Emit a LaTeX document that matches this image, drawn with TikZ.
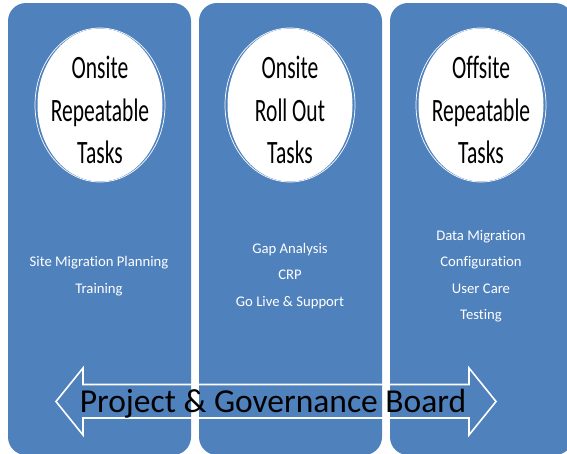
\documentclass[tikz,border=0pt]{standalone}
\usepackage{fontspec}
\usetikzlibrary{shapes.geometric}
\setmainfont{Carlito}[Ligatures={NoCommon}]
\newfontfamily\narrowfont[FakeStretch=0.66,Ligatures={NoCommon}]{Carlito}
\definecolor{obl}{RGB}{79,129,189}
\begin{document}
\begin{tikzpicture}[x=1pt,y=-1pt,
  colbox/.style={fill=obl,draw=none,rounded corners=18pt,minimum width=183pt,minimum height=452pt,inner sep=0pt},
  headell/.style={ellipse,fill=white,draw=none,minimum width=125pt,minimum height=153pt,inner sep=0pt},
  headring/.style={ellipse,draw=white,line width=0.7pt,minimum width=130pt,minimum height=154pt,inner sep=0pt},
  headtxt/.style={align=center,font=\narrowfont\fontsize{32.6}{42.5}\selectfont,text=black,inner sep=0pt},
  bodytxt/.style={align=center,font=\fontsize{14.7}{26.5}\selectfont,text=white,inner sep=0pt},
  arrowline/.style={draw=white,line width=1.6pt,line join=miter},
  arrowtxt/.style={font=\fontsize{33.5}{36}\selectfont,text=black,inner sep=0pt,anchor=base}
]
\useasboundingbox (0,0) rectangle (567,453);
\begin{scope}
\clip (0,0) rectangle (567,453);
\node[colbox] (col1) at (99.5,229) {};
\node[colbox] (col2) at (290.5,229) {};
\node[colbox] (col3) at (481.5,229) {};
\end{scope}
\foreach \i/\x in {1/100,2/290,3/481}{
  \node[headring] (r\i) at (\x,105) {};
  \node[headell] (e\i) at (\x,105) {};
}
\node[headtxt] (h1) at (100,110) {Onsite\\Repeatable\\Tasks};
\node[headtxt] (h2) at (290,110) {Onsite\\Roll Out\\Tasks};
\node[headtxt] (h3) at (481,110) {Offsite\\Repeatable\\Tasks};
\node[bodytxt] (b1) at (99,276) {Site Migration Planning\\Training};
\node[bodytxt] (b2) at (290,276) {Gap Analysis\\CRP\\Go Live \& Support};
\node[bodytxt] (b3) at (481,276) {Data Migration\\Configuration\\User Care\\Testing};
\draw[arrowline] (56,401.5) -- (83,368) -- (83,384.5) -- (469,384.5) -- (469,368) -- (496,401.5) -- (469,435) -- (469,418) -- (83,418) -- (83,435) -- cycle;
\node[arrowtxt] (pg) at (273,412) {Project \& Governance Board};
\end{tikzpicture}
\end{document}
